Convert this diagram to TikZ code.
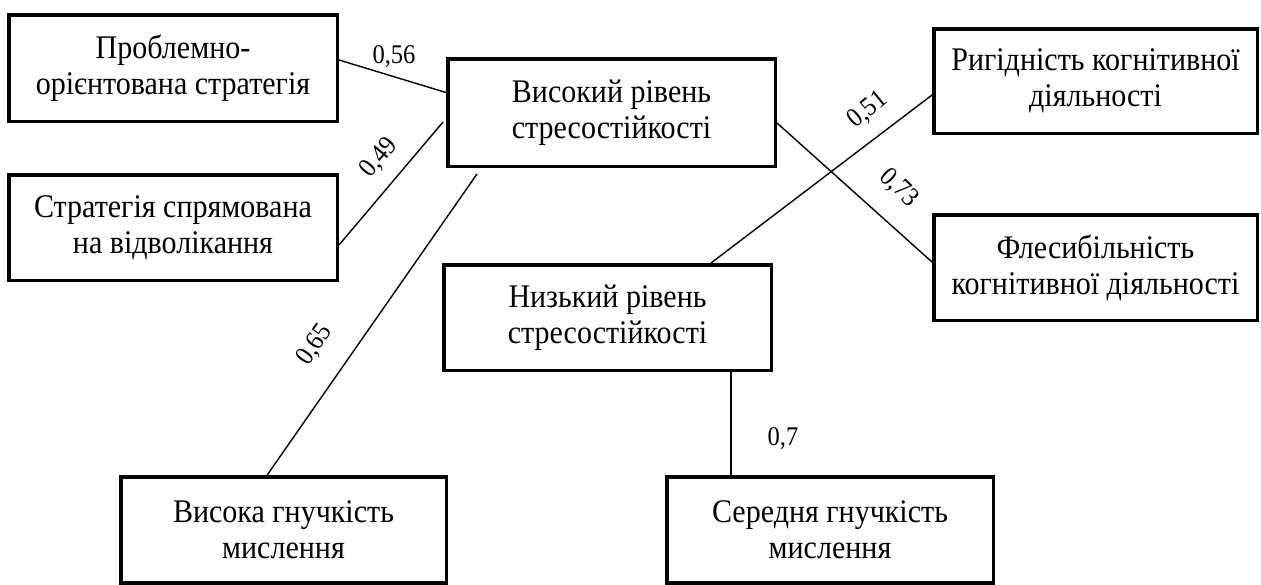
\documentclass[tikz,border=0pt]{standalone}
\usepackage{fontspec}
\setmainfont{Liberation Serif}[FakeStretch=0.91]
\begin{document}
\begin{tikzpicture}[x=1pt,y=-1pt,
  box/.style={draw, line width=3.5pt, rectangle, align=center, inner sep=0pt,
    font=\fontsize{33}{36}\selectfont},
  conn/.style={line width=1.4pt},
  lbl/.style={inner sep=0pt, font=\fontsize{27}{30}\selectfont}]
\useasboundingbox[fill=white] (0,0) rectangle (1261,584);
\node[box, minimum width=328.5, minimum height=106.5] (b1) at (173,68) {Проблемно-\\орієнтована стратегія};
\node[box, minimum width=328.5, minimum height=105.5] (b2) at (173,227.5) {Стратегія спрямована\\на відволікання};
\node[box, minimum width=327.5, minimum height=107.5] (b3) at (611.5,112.5) {Високий рівень\\стресостійкості};
\node[box, minimum width=323.5, minimum height=104.5] (b4) at (1095.5,81) {Ригідність когнітивної\\діяльності};
\node[box, minimum width=323.5, minimum height=105.5] (b5) at (1095.5,267.5) {Флесибільність\\когнітивної діяльності};
\node[box, minimum width=327.5, minimum height=105.5] (b6) at (607.5,317.5) {Низький рівень\\стресостійкості};
\node[box, minimum width=325.5, minimum height=106] (b7) at (283.5,530) {Висока гнучкість\\мислення};
\node[box, minimum width=326.5, minimum height=106] (b8) at (830,530) {Середня гнучкість\\мислення};
\draw[conn] ([yshift=8pt]b1.east) -- ([yshift=20pt]b3.west);
\draw[conn] ([yshift=-17.5pt]b2.east) -- ([xshift=-3pt,yshift=-9.5pt]b3.west);
\draw[conn] ([shift={(31pt,-6pt)}]b3.south west) -- ([xshift=-16.5pt]b7.north);
\draw[conn] ([yshift=-10.5pt]b3.east) -- ([yshift=5.5pt]b5.west);
\draw[conn] ([yshift=-14pt]b4.west) -- ([xshift=103.5pt]b6.north);
\draw[conn] ([xshift=123.5pt]b6.south) -- ([xshift=-99pt]b8.north);
\node[lbl] (l56) at (394,57) {0,56};
\node[lbl, rotate=50] (l49) at (379,158) {0,49};
\node[lbl, rotate=55] (l65) at (315,345) {0,65};
\node[lbl, rotate=39] (l51) at (868,110) {0,51};
\node[lbl, rotate=-44] (l73) at (899,188) {0,73};
\node[lbl] (l7) at (783,439) {0,7};
\end{tikzpicture}
\end{document}
